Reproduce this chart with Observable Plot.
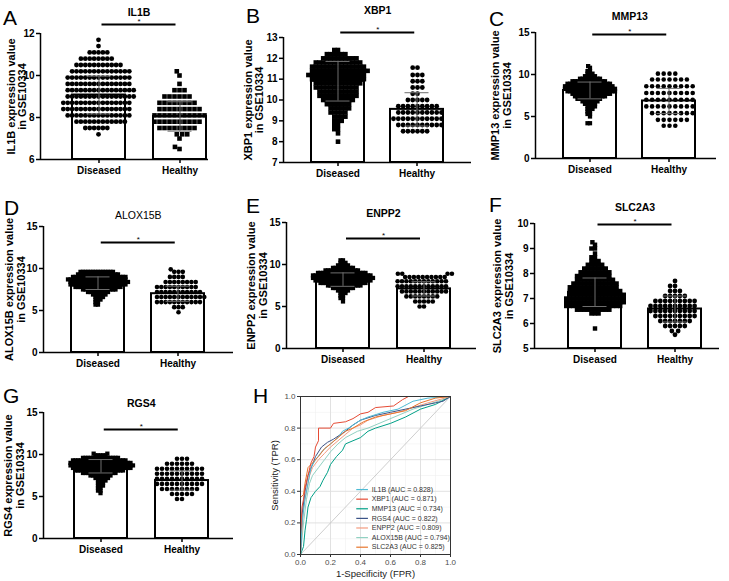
<!DOCTYPE html>
<html><head><meta charset="utf-8">
<script src="https://cdn.jsdelivr.net/npm/d3@7"></script>
<script src="https://cdn.jsdelivr.net/npm/@observablehq/plot@0.6"></script>
<style>
body{margin:0;background:#fff;}
#fig{position:relative;width:729px;height:581px;overflow:hidden;background:#fff;}
.panel{position:absolute;}
.panel svg{overflow:visible;max-width:none;}
#letters{position:absolute;left:0;top:0;}
</style></head><body><div id="fig"></div>
<script>
// ---------- DATA ----------
const groupNames = ["Diseased", "Healthy"];
const geneNames = ["IL1B", "XBP1", "MMP13", "ALOX15B", "ENPP2", "SLC2A3", "RGS4"];
const diseasedMean = [9.07, 10.9, 8.1, 8.25, 8.2, 7.25, 8.6];
const healthyMean  = [8.05, 9.55, 6.85, 7.0, 7.1, 6.58, 6.9];
const diseasedSD   = [0.9, 0.95, 1.0, 0.75, 0.8, 0.57, 0.8];
const healthySD    = [0.7, 0.8, 1.5, 0.9, 0.85, 0.52, 1.15];
const yTicks = [[6,8,10,12],[7,8,9,10,11,12,13],[0,5,10,15],[0,5,10,15],[0,5,10,15],[5,6,7,8,9,10],[0,5,10,15]];
const sigLevel = [12.43, 13.24, 14.76, 13.1, 13.1, 9.96, 12.98];

// [value, number of samples at that value]
const il1bDiseased = [[7.2,1],[7.5,6],[7.8,12],[8.1,15],[8.4,16],[8.7,16],[9.0,16],[9.3,16],[9.6,15],[9.9,15],[10.2,14],[10.5,11],[10.8,8],[11.1,5],[11.4,1],[11.7,1]];
const il1bHealthy = [[6.5,1],[6.6,1],[7.0,1],[7.2,3],[7.5,8],[7.8,10],[8.1,11],[8.4,9],[8.7,8],[9.0,6],[9.3,3],[9.6,1],[10.0,1],[10.2,1]];
const xbp1Diseased = [[8.0,1],[8.4,1],[8.6,2],[8.8,2],[9.0,3],[9.2,4],[9.4,5],[9.6,6],[9.8,7],[10.0,9],[10.2,11],[10.4,11],[10.6,12],[10.8,13],[11.0,15],[11.2,16],[11.4,16],[11.6,15],[11.8,13],[12.0,10],[12.2,6],[12.4,2]];
const xbp1Healthy = [[8.5,6],[8.8,10],[9.1,11],[9.4,10],[9.7,9],[10.0,5],[10.3,2],[10.6,3],[10.9,3],[11.2,3],[11.55,2]];
const mmp13Diseased = [[4.2,2],[5.0,1],[5.3,2],[5.6,2],[5.9,3],[6.2,4],[6.5,5],[6.8,7],[7.1,10],[7.4,13],[7.7,16],[8.0,20],[8.3,21],[8.6,20],[8.9,18],[9.2,14],[9.5,9],[9.8,5],[10.1,3],[10.4,2],[10.8,1],[11.0,1]];
const mmp13Healthy = [[3.9,3],[4.6,6],[5.4,8],[6.2,9],[7.0,9],[7.8,9],[8.6,9],[9.4,7],[10.1,4]];
const alox15bDiseased = [[5.7,2],[6.0,2],[6.3,3],[6.6,4],[6.9,6],[7.2,9],[7.5,14],[7.8,19],[8.1,23],[8.4,24],[8.7,24],[9.0,22],[9.3,17],[9.6,14]];
const alox15bHealthy = [[4.8,1],[5.4,3],[6.0,11],[6.6,12],[7.2,11],[7.8,10],[8.4,8],[9.0,4],[9.6,3],[9.9,1]];
const enpp2Diseased = [[5.6,1],[6.0,2],[6.3,2],[6.6,3],[6.9,5],[7.2,9],[7.5,14],[7.8,19],[8.1,23],[8.4,25],[8.7,24],[9.0,20],[9.3,14],[9.6,9],[9.9,5],[10.2,3],[10.5,2]];
const enpp2Healthy = [[5.0,2],[5.6,5],[6.2,8],[6.8,11],[7.4,12],[8.0,12],[8.5,10],[8.9,4]];
const slc2a3Diseased = [[5.8,1],[6.4,3],[6.55,10],[6.7,16],[6.85,17],[7.0,17],[7.15,16],[7.3,15],[7.45,14],[7.6,13],[7.75,11],[7.9,10],[8.05,9],[8.2,7],[8.35,5],[8.5,3],[8.65,2],[8.8,1],[9.0,2],[9.15,1],[9.25,1]];
const slc2a3Healthy = [[5.55,1],[5.7,2],[5.9,5],[6.1,7],[6.3,9],[6.5,10],[6.7,10],[6.9,9],[7.1,5],[7.3,3],[7.5,2],[7.7,1]];
const rgs4Diseased = [[5.4,1],[5.7,2],[6.0,2],[6.3,3],[6.6,3],[6.9,4],[7.2,6],[7.5,9],[7.8,14],[8.1,20],[8.4,24],[8.7,26],[9.0,25],[9.3,22],[9.6,15],[9.9,5],[10.1,2]];
const rgs4Healthy = [[4.7,2],[5.3,5],[5.9,8],[6.5,10],[7.1,10],[7.7,10],[8.3,10],[8.9,6],[9.5,3]];
const diseasedPoints = [il1bDiseased, xbp1Diseased, mmp13Diseased, alox15bDiseased, enpp2Diseased, slc2a3Diseased, rgs4Diseased];
const healthyPoints = [il1bHealthy, xbp1Healthy, mmp13Healthy, alox15bHealthy, enpp2Healthy, slc2a3Healthy, rgs4Healthy];

// ROC curves: [FPR, TPR]
const rocIL1B = [[0,0],[0.01,0.2],[0.03,0.35],[0.05,0.45],[0.07,0.55],[0.1,0.6],[0.15,0.66],[0.2,0.7],[0.25,0.74],[0.28,0.78],[0.32,0.8],[0.4,0.85],[0.45,0.87],[0.55,0.9],[0.65,0.92],[0.75,0.97],[0.85,0.99],[1,1]];
const rocXBP1 = [[0,0],[0,0.12],[0.01,0.3],[0.02,0.35],[0.03,0.42],[0.05,0.5],[0.07,0.58],[0.09,0.62],[0.1,0.68],[0.12,0.72],[0.12,0.8],[0.2,0.8],[0.22,0.83],[0.3,0.84],[0.35,0.86],[0.4,0.89],[0.45,0.9],[0.5,0.93],[0.62,0.94],[0.68,0.98],[0.72,1],[1,1]];
const rocMMP13 = [[0,0],[0.02,0.05],[0.03,0.15],[0.04,0.22],[0.05,0.3],[0.07,0.36],[0.1,0.4],[0.13,0.43],[0.15,0.47],[0.18,0.52],[0.2,0.57],[0.24,0.62],[0.28,0.66],[0.3,0.7],[0.35,0.72],[0.4,0.74],[0.45,0.78],[0.5,0.8],[0.6,0.83],[0.7,0.87],[0.8,0.92],[0.9,0.95],[1,1]];
const rocRGS4 = [[0,0],[0.01,0.25],[0.03,0.4],[0.05,0.5],[0.08,0.57],[0.1,0.62],[0.14,0.68],[0.18,0.71],[0.22,0.73],[0.3,0.78],[0.35,0.82],[0.4,0.85],[0.5,0.88],[0.6,0.9],[0.7,0.92],[0.8,0.94],[0.9,0.96],[0.95,0.97],[1,1]];
const rocENPP2 = [[0,0],[0.01,0.15],[0.02,0.3],[0.04,0.4],[0.06,0.5],[0.08,0.55],[0.12,0.6],[0.16,0.64],[0.2,0.68],[0.25,0.72],[0.3,0.76],[0.35,0.8],[0.4,0.82],[0.45,0.85],[0.55,0.88],[0.65,0.9],[0.75,0.93],[0.85,0.96],[1,1]];
const rocALOX15B = [[0,0],[0.02,0.2],[0.04,0.35],[0.06,0.45],[0.08,0.5],[0.12,0.55],[0.16,0.6],[0.2,0.65],[0.25,0.7],[0.3,0.74],[0.38,0.78],[0.45,0.8],[0.55,0.84],[0.65,0.88],[0.75,0.92],[0.85,0.95],[0.95,0.98],[1,1]];
const rocSLC2A3 = [[0,0],[0,0.36],[0.02,0.38],[0.03,0.45],[0.05,0.55],[0.08,0.58],[0.12,0.62],[0.16,0.67],[0.2,0.7],[0.25,0.74],[0.3,0.78],[0.35,0.8],[0.42,0.84],[0.5,0.87],[0.6,0.89],[0.7,0.91],[0.8,0.96],[0.9,0.99],[1,1]];
const rocGenes = ["IL1B", "XBP1", "MMP13", "RGS4", "ENPP2", "ALOX15B", "SLC2A3"];
const rocAUC = [0.828, 0.871, 0.734, 0.822, 0.809, 0.794, 0.825];
const rocCurves = [rocIL1B, rocXBP1, rocMMP13, rocRGS4, rocENPP2, rocALOX15B, rocSLC2A3];
const rocTicks = [0, 0.2, 0.4, 0.6, 0.8, 1.0];
const rocMinorTicks = [0.1, 0.3, 0.5, 0.7, 0.9];

// ---------- STYLE / LAYOUT ----------
const rocColors = ["#4DBBD5", "#E64B35", "#00A087", "#3C5488", "#F39B7F", "#91D1C2", "#E8762D"];
const layout = {
  IL1B:    {box:[0,0,243,190],     axisX:40,  top:33,  bottom:159, end:208, cD:98,    cH:179,   title:12,  lab:[29,18],   symD:"circle", symH:"square", rD:2.4, pD:-0.4,  rH:2.6, pH:-0.2, tw:"bold"},
  XBP1:    {box:[243,0,243,190],   axisX:283, top:37,  bottom:162, end:471, cD:337.5, cH:417,   title:10,  lab:[35,24],   symD:"square", symH:"circle", rD:2.6, pD:-1.5,  rH:2.4, pH:0,    tw:"bold"},
  MMP13:   {box:[486,0,243,190],   axisX:535, top:32,  bottom:158, end:716, cD:589.5, cH:669,   title:16,  lab:[40,28],   symD:"square", symH:"circle", rD:2.4, pD:-2.3,  rH:2.3, pH:1.2,  tw:"bold"},
  ALOX15B: {box:[0,190,243,190],   axisX:43,  top:226, bottom:352, end:233, cD:97.5,  cH:178,   title:215, lab:[34,22],   symD:"square", symH:"circle", rD:2.4, pD:-2.3,  rH:2.3, pH:-0.3, tw:"normal"},
  ENPP2:   {box:[243,190,243,190], axisX:286, top:222, bottom:348, end:476, cD:342.5, cH:423.5, title:213, lab:[35.5,23], symD:"square", symH:"circle", rD:2.4, pD:-2.3,  rH:2.3, pH:-0.2, tw:"bold"},
  SLC2A3:  {box:[486,190,243,190], axisX:534, top:223, bottom:348, end:719, cD:594.5, cH:674.5, title:207, lab:[37,25.5], symD:"square", symH:"circle", rD:2.5, pD:-1.4,  rH:2.4, pH:0.1,  tw:"bold"},
  RGS4:    {box:[0,380,243,201],   axisX:43,  top:412, bottom:538, end:233, cD:100,   cH:181.5, title:403, lab:[35.5,23], symD:"square", symH:"circle", rD:2.4, pD:-2.3,  rH:2.3, pH:0.4,  tw:"bold"}
};
const letters = [["A",3,25],["B",246,23],["C",489,26],["D",4,215],["E",246,213],["F",489,212],["G",3,403],["H",253,403]];

const fig = document.getElementById("fig");
const expand = (arr) => arr.flatMap(([v, n]) => Array.from({length: n}, () => ({v})));

function addPanel(el, box) {
  const div = document.createElement("div");
  div.className = "panel";
  div.style.left = box[0] + "px"; div.style.top = box[1] + "px";
  div.style.width = box[2] + "px"; div.style.height = box[3] + "px";
  div.appendChild(el);
  fig.appendChild(div);
}

geneNames.forEach((g, i) => {
  const L = layout[g];
  const [bx, by, bw, bh] = L.box;
  const ticks = yTicks[i];
  const y0 = ticks[0], y1 = ticks[ticks.length - 1];
  const stats = [
    {g: "Diseased", m: diseasedMean[i], sd: diseasedSD[i]},
    {g: "Healthy", m: healthyMean[i], sd: healthySD[i]}
  ];
  const step = L.cH - L.cD;
  const barW = 53;
  const p = 1 - barW / step;
  const fm = (L.axisX + L.end) / 2;
  const mid = (L.cD + L.cH) / 2;
  const capInset = (barW - 24) / 2;
  // point marks on a band x scale are shifted by half a band; compensate
  const half = barW / 2;
  const chart = Plot.plot({
    width: bw, height: bh,
    marginLeft: L.axisX - bx, marginRight: bx + bw - L.end,
    marginTop: L.top - by, marginBottom: by + bh - L.bottom,
    style: {fontFamily: "'Liberation Sans', Arial, sans-serif", fontSize: "10px", fontWeight: "bold", background: "transparent", color: "#000", overflow: "visible"},
    x: {domain: groupNames, range: [L.cD - step / 2 - bx, L.cH + step / 2 - bx], paddingInner: p, paddingOuter: p / 2, align: 0.5},
    y: {domain: [y0, y1]},
    marks: [
      Plot.barY(stats, {x: "g", y1: () => y0, y2: "m", fill: "white", stroke: "black", strokeWidth: 2}),
      Plot.dot(expand(diseasedPoints[i]), Plot.dodgeX({anchor: "middle", y: "v", r: L.rD, padding: L.pD, symbol: L.symD, fill: "black", dx: L.cD - fm - half})),
      Plot.dot(expand(healthyPoints[i]), Plot.dodgeX({anchor: "middle", y: "v", r: L.rH, padding: L.pH, symbol: L.symH, fill: "black", dx: L.cH - fm - half})),
      Plot.ruleX(stats, {x: "g", y1: (d) => d.m - d.sd, y2: (d) => d.m + d.sd, stroke: "#6e6e6e", strokeWidth: 1}),
      Plot.tickY(stats, {x: "g", y: (d) => d.m + d.sd, stroke: "#6e6e6e", strokeWidth: 1, insetLeft: capInset, insetRight: capInset}),
      Plot.tickY(stats, {x: "g", y: (d) => d.m - d.sd, stroke: "#6e6e6e", strokeWidth: 1, insetLeft: capInset, insetRight: capInset}),
      Plot.ruleY([y0], {strokeWidth: 1.5}),
      Plot.ruleX([y0], {x: null, y1: () => y0, y2: () => y1, dx: L.axisX - fm, strokeWidth: 1.5}),
      Plot.axisY({ticks, tickFormat: (d) => String(d), tickSize: 4, tickPadding: 2, label: null, strokeWidth: 1.5}),
      Plot.axisX({tickSize: 4, tickPadding: 3, label: null, strokeWidth: 1.5}),
      Plot.text([g], {frameAnchor: "top", dx: mid - fm, dy: L.title - L.top, lineAnchor: "middle", fontSize: 10.5, fontWeight: L.tw}),
      Plot.ruleY([sigLevel[i]], {insetLeft: mid - 37 - L.axisX, insetRight: L.end - (mid + 37), strokeWidth: 2}),
      Plot.text([sigLevel[i]], {y: (d) => d, text: () => "*", dx: mid - fm, dy: -3, fontSize: 8, fontWeight: "normal"}),
      Plot.text([`${g} expression value`], {frameAnchor: "left", rotate: -90, textAnchor: "middle", lineAnchor: "middle", dx: -L.lab[0], fontSize: 11, fontWeight: "bold"}),
      Plot.text(["in GSE10334"], {frameAnchor: "left", rotate: -90, textAnchor: "middle", lineAnchor: "middle", dx: -L.lab[1], fontSize: 11, fontWeight: "bold"})
    ]
  });
  addPanel(chart, L.box);
});

// ---------- ROC panel ----------
const drawOrder = ["ALOX15B", "MMP13", "ENPP2", "RGS4", "IL1B", "SLC2A3", "XBP1"];
const rocRows = drawOrder.flatMap((g) => rocCurves[rocGenes.indexOf(g)].map(([fpr, tpr]) => ({gene: g, fpr, tpr})));
const legendItems = rocGenes.map((g, k) => ({gene: g, auc: rocAUC[k], k}));
const legX1 = 0.375, legX2 = 0.453, legTX = 0.475, legY0 = 0.411, legStep = 0.0608;
const roc = Plot.plot({
  width: 243, height: 201, marginLeft: 57, marginRight: 36, marginTop: 16, marginBottom: 27,
  style: {fontFamily: "'Liberation Sans', Arial, sans-serif", fontSize: "8px", background: "transparent", color: "#4d4d4d", overflow: "visible"},
  x: {domain: [0, 1]}, y: {domain: [0, 1]},
  color: {domain: rocGenes, range: rocColors},
  marks: [
    Plot.gridX(rocMinorTicks, {stroke: "#f0f0f0", strokeOpacity: 1, strokeWidth: 0.6}),
    Plot.gridY(rocMinorTicks, {stroke: "#f0f0f0", strokeOpacity: 1, strokeWidth: 0.6}),
    Plot.gridX(rocTicks, {stroke: "#dedede", strokeOpacity: 1, strokeWidth: 0.9}),
    Plot.gridY(rocTicks, {stroke: "#dedede", strokeOpacity: 1, strokeWidth: 0.9}),
    Plot.line([[0, 0], [1, 1]], {stroke: "#c2c2c2", strokeWidth: 0.8}),
    Plot.line(rocRows, {x: "fpr", y: "tpr", z: "gene", stroke: "gene", strokeWidth: 1}),
    Plot.frame({stroke: "#333", strokeWidth: 1}),
    Plot.axisX({ticks: rocTicks, tickFormat: d3.format(".1f"), tickSize: 3, tickPadding: 2, label: null, stroke: "#333"}),
    Plot.axisY({ticks: rocTicks, tickFormat: d3.format(".1f"), tickSize: 3, tickPadding: 2, label: null, stroke: "#333"}),
    Plot.ruleY(legendItems, {y: (d) => legY0 - d.k * legStep, x1: () => legX1, x2: () => legX2, stroke: "gene", strokeWidth: 1.2}),
    Plot.text(legendItems, {x: () => legTX, y: (d) => legY0 - d.k * legStep, text: (d) => `${d.gene} (AUC = ${d.auc.toFixed(3)})`, textAnchor: "start", fontSize: 7, fill: "#333"}),
    Plot.text(["Sensitivity (TPR)"], {frameAnchor: "left", rotate: -90, textAnchor: "middle", lineAnchor: "middle", dx: -26, fontSize: 9.5, fill: "#222"}),
    Plot.text(["1-Specificity (FPR)"], {frameAnchor: "bottom", lineAnchor: "middle", dy: 19, fontSize: 9.5, fill: "#222"})
  ]
});
addPanel(roc, [243, 380, 243, 201]);

// ---------- panel letters ----------
const ns = "http://www.w3.org/2000/svg";
const ls = document.createElementNS(ns, "svg");
ls.setAttribute("id", "letters"); ls.setAttribute("width", 729); ls.setAttribute("height", 581);
ls.style.pointerEvents = "none";
letters.forEach(([t, x, y]) => {
  const tx = document.createElementNS(ns, "text");
  tx.setAttribute("x", x); tx.setAttribute("y", y);
  tx.setAttribute("font-family", "'Liberation Sans Narrow', 'Liberation Sans', Arial, sans-serif");
  tx.setAttribute("font-size", 21);
  tx.textContent = t;
  ls.appendChild(tx);
});
fig.appendChild(ls);
</script></body></html>
